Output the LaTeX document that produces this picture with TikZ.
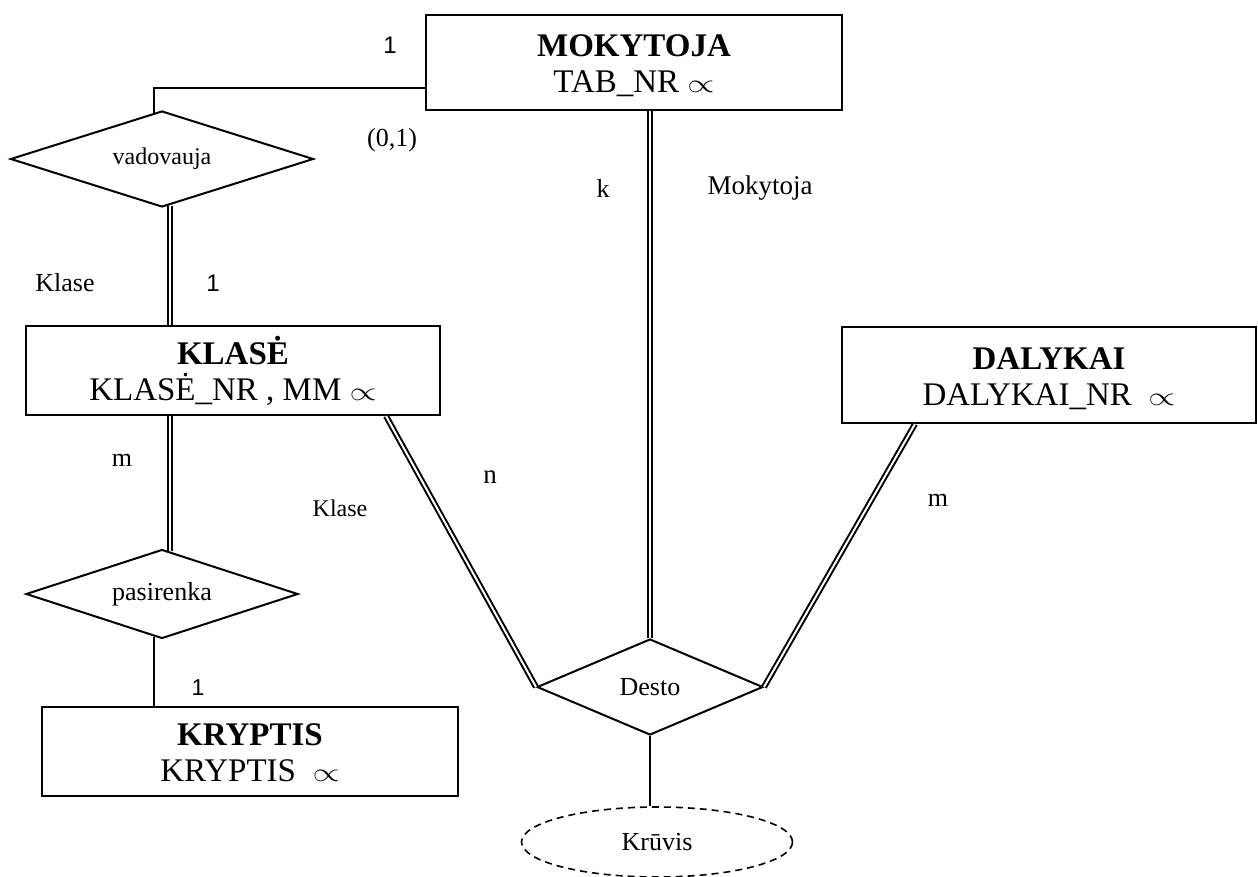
\documentclass[tikz,border=0pt]{standalone}
\usepackage{fontspec}
\setmainfont{Liberation Serif}
\newfontfamily\labelsans{Liberation Sans}
\usetikzlibrary{shapes.geometric,calc}
% key marker and struts that fix the two text lines inside an entity box
\newcommand{\keymark}{\scalebox{1.4}[1.05]{$\propto$}}
\newcommand{\toprule}{\rule{0pt}{31pt}}
\newcommand{\botrule}{\rule[-7pt]{0pt}{7pt}}

\begin{document}
\begin{tikzpicture}[x=1pt,y=-1pt,
  entity/.style={draw,line width=2pt,inner sep=0pt,align=center,
    font=\fontsize{33}{36}\selectfont},
  relation/.style={draw,diamond,shape aspect=3,line width=2pt,inner sep=0pt},
  attrib/.style={draw,ellipse,dashed,dash pattern=on 7pt off 5pt,line width=1.6pt,inner sep=0pt},
  dbl/.style={double,double distance=2pt,line width=2pt},
  single/.style={line width=2pt},
  lbl/.style={inner sep=0pt,font=\fontsize{26}{28}\selectfont},
  num/.style={inner sep=0pt,font=\labelsans\fontsize{24}{26}\selectfont}]
\useasboundingbox (0,0) rectangle (1258,876);

% entities
\node[entity,minimum width=416pt,minimum height=95pt] (mok) at (634,62.5)
  {\toprule\textbf{MOKYTOJA}\\TAB\_NR \keymark\botrule};
\node[entity,minimum width=414pt,minimum height=89pt] (kla) at (233,370.5)
  {\toprule\textbf{KLASĖ}\\KLASĖ\_NR , MM \keymark\botrule};
\node[entity,minimum width=414pt,minimum height=96pt] (dal) at (1049,375)
  {\toprule\textbf{DALYKAI}\\DALYKAI\_NR \ \keymark\botrule};
\node[entity,minimum width=416pt,minimum height=89pt] (kry) at (250,751.5)
  {\toprule\textbf{KRYPTIS}\\KRYPTIS \ \keymark\botrule};

% relationships
\node[relation,minimum width=303pt,minimum height=96pt,font=\fontsize{24}{26}\selectfont]
  (vad) at (162,159) {vadovauja};
\node[relation,minimum width=272pt,minimum height=89pt,font=\fontsize{26}{28}\selectfont]
  (pas) at (162,594) {pasirenka};
\node[relation,minimum width=226pt,minimum height=96pt,font=\fontsize{26}{28}\selectfont]
  (des) at (650,687) {Desto};

% attribute
\node[attrib,minimum width=271pt,minimum height=70pt,font=\fontsize{26}{28}\selectfont]
  (kru) at (657,842) {Krūvis};

% connectors
\draw[single] ([yshift=23pt]mok.south west) -| ([xshift=-8pt,yshift=-2.5pt]vad.north);
\coordinate (vk) at ([xshift=8pt,yshift=2pt]vad.south);
\draw[dbl] (vk) -- (vk |- kla.north);
\draw[dbl] (vk |- kla.south) -- ([xshift=8pt,yshift=-2.5pt]pas.north);
\coordinate (pk) at ([xshift=-8pt,yshift=2.5pt]pas.south);
\draw[single] (pk) -- (pk |- kry.north);
\draw[dbl] (des.north |- mok.south) -- (des.north);
\draw[dbl] ([xshift=153pt]kla.south) -- (des.west);
\draw[dbl] ([xshift=-134pt]dal.south) -- (des.east);
\draw[single] (des.south) -- (des.south |- kru.north);

% cardinality and role labels
\node[num] (c1) at (390,45) {1};
\node[lbl] (c2) at (392,140) {(0,1)};
\node[lbl] (r1) at (65,283) {Klase};
\node[num] (c3) at (213,283) {1};
\node[lbl] (c4) at (122,460) {m};
\node[lbl,font=\fontsize{24}{26}\selectfont] (r2) at (340,508) {Klase};
\node[num,font=\labelsans\fontsize{23}{25}\selectfont] (c5) at (198,688) {1};
\node[lbl] (c6) at (603,188) {k};
\node[lbl,font=\fontsize{27}{29}\selectfont] (r3) at (760,188) {Mokytoja};
\node[lbl,font=\fontsize{27}{29}\selectfont] (c7) at (490,477) {n};
\node[lbl] (c8) at (938,500) {m};
\end{tikzpicture}
\end{document}
